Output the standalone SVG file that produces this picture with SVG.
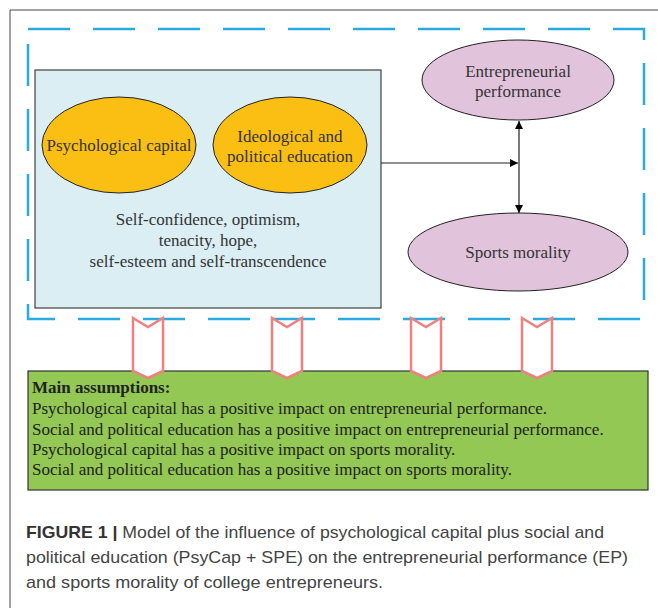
<svg xmlns="http://www.w3.org/2000/svg" width="658" height="608" viewBox="0 0 658 608">
<style>
.t{font-family:"Liberation Serif",serif;font-size:17px;fill:#333}
.g{fill:#222}
.c{font-family:"Liberation Sans",sans-serif;font-size:17px;fill:#444}
.chev{fill:#fff;stroke:#f08080;stroke-width:2.5;stroke-linejoin:miter}
.ln{stroke:#222;stroke-width:1.2;fill:none}
</style>
<defs>
<marker id="ah" viewBox="0 0 10 10" refX="10" refY="5" markerWidth="8" markerHeight="8" orient="auto-start-reverse" markerUnits="userSpaceOnUse">
<path d="M0,0 L10,5 L0,10 z" fill="#000"/>
</marker>
</defs>
<rect width="658" height="608" fill="#fff"/>
<path d="M10,608 V10 H658" fill="none" stroke="#444" stroke-width="1"/>
<rect x="28" y="29" width="616" height="290" fill="none" stroke="#29abe2" stroke-width="2.5" stroke-dasharray="42 23"/>
<g id="box">
<rect x="35" y="70" width="346" height="238" fill="#daeef3" stroke="#404040" stroke-width="1.2"/>
<text class="t" text-anchor="middle"><tspan x="208" y="225">Self-confidence, optimism,</tspan><tspan x="208" y="246">tenacity, hope,</tspan><tspan x="208" y="267">self-esteem and self-transcendence</tspan></text>
</g>
<g id="psycap">
<ellipse cx="119" cy="145" rx="77" ry="48" fill="#fbbf13" stroke="#222" stroke-width="1"/>
<text class="t" x="119" y="151" text-anchor="middle">Psychological capital</text>
</g>
<g id="ipe">
<ellipse cx="290" cy="145" rx="77" ry="48" fill="#fbbf13" stroke="#222" stroke-width="1"/>
<text class="t" text-anchor="middle"><tspan x="290" y="142">Ideological and</tspan><tspan x="290" y="162">political education</tspan></text>
</g>
<g id="ep">
<ellipse cx="518" cy="80" rx="96" ry="40" fill="#e1c4dc" stroke="#222" stroke-width="1"/>
<text class="t" text-anchor="middle"><tspan x="518" y="77">Entrepreneurial</tspan><tspan x="518" y="97">performance</tspan></text>
</g>
<g id="sm">
<ellipse cx="518" cy="252" rx="110" ry="39" fill="#e1c4dc" stroke="#222" stroke-width="1"/>
<text class="t" x="518" y="258" text-anchor="middle">Sports morality</text>
</g>
<g id="connectors">
<line class="ln" x1="381" y1="163" x2="518" y2="163" marker-end="url(#ah)"/>
<line class="ln" x1="519" y1="121" x2="519" y2="213" marker-start="url(#ah)" marker-end="url(#ah)"/>
</g>
<g id="green">
<rect x="28" y="371" width="620" height="119" fill="#92c853" stroke="#333" stroke-width="1.2"/>
<text class="t g" x="32" y="393" font-weight="bold">Main assumptions:</text>
<text class="t g" x="32" y="414">Psychological capital has a positive impact on entrepreneurial performance.</text>
<text class="t g" x="32" y="435">Social and political education has a positive impact on entrepreneurial performance.</text>
<text class="t g" x="32" y="455">Psychological capital has a positive impact on sports morality.</text>
<text class="t g" x="32" y="475">Social and political education has a positive impact on sports morality.</text>
</g>
<g id="chevrons">
<path class="chev" d="M133,318 L148,327 L163,318 V371 L148,378 L133,371 Z"/>
<path class="chev" d="M272,318 L287,327 L302,318 V371 L287,378 L272,371 Z"/>
<path class="chev" d="M411,318 L426,327 L441,318 V371 L426,378 L411,371 Z"/>
<path class="chev" d="M522,318 L537,327 L552,318 V371 L537,378 L522,371 Z"/>
</g>
<g id="caption">
<text class="c" x="26" y="538" textLength="578" lengthAdjust="spacingAndGlyphs"><tspan font-weight="bold" fill="#333">FIGURE 1 |</tspan> Model of the influence of psychological capital plus social and</text>
<text class="c" x="26" y="563" textLength="602" lengthAdjust="spacingAndGlyphs">political education (PsyCap + SPE) on the entrepreneurial performance (EP)</text>
<text class="c" x="26" y="588" textLength="357" lengthAdjust="spacingAndGlyphs">and sports morality of college entrepreneurs.</text>
</g>
</svg>
